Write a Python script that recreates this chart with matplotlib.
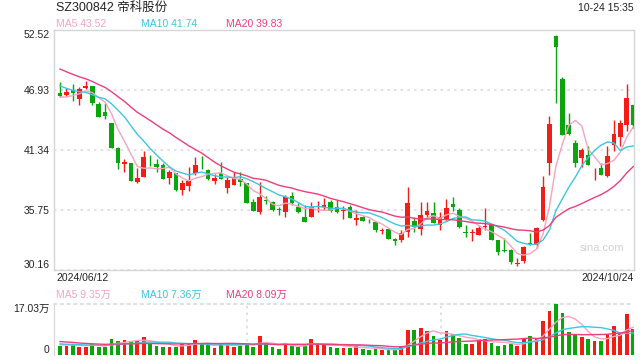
import numpy as np
import pandas as pd
import matplotlib
matplotlib.use("Agg")
import matplotlib.pyplot as plt

plt.rcParams['font.family'] = ['Liberation Sans', 'Noto Sans CJK SC', 'DejaVu Sans']

title = "SZ300842 帝科股份"
stamp = "10-24 15:35"
first_date = "2024/06/12"
last_date = "2024/10/24"
price_ticks = [30.16, 35.75, 41.34, 46.93, 52.52]
vol_max = 17.03
ma_periods = [5, 10, 20]
ma_legend = [43.52, 41.74, 39.83]      # values shown in the price legend
vol_ma_legend = [9.35, 7.36, 8.09]     # values shown in the volume legend (万)

# daily candles, 2024-06-12 .. 2024-10-24
opens = [46.68, 46.50, 46.93, 46.06, 47.12, 47.30, 45.63, 44.88, 43.83, 41.50,
         40.04, 40.10, 38.36, 38.85, 40.35, 40.04, 39.91, 38.76, 39.17, 37.61,
         38.02, 39.23, 40.07, 39.48, 38.48, 39.17, 37.83, 38.11, 38.61, 38.23,
         36.50, 35.59, 36.68, 36.50, 35.81, 35.59, 37.05, 36.00, 35.07, 35.13,
         36.09, 36.00, 36.52, 35.99, 35.63, 35.99, 34.86, 35.13, 34.75, 34.60,
         33.82, 33.95, 33.08, 32.95, 33.73, 34.72, 33.95, 35.28, 35.50, 34.32,
         34.88, 36.31, 35.75, 33.70, 33.65, 33.45, 34.20, 34.41, 32.95, 32.02,
         32.02, 30.70, 30.97, 32.67, 32.46, 34.85, 40.13, 51.99, 47.99, 43.70,
         41.99, 40.59, 40.91, 39.17, 39.66, 38.95, 41.84, 42.52, 43.64, 45.50]
highs = [47.71, 47.09, 47.49, 47.18, 47.80, 47.30, 45.84, 45.75, 43.83, 41.65,
         40.47, 40.10, 39.63, 41.25, 40.84, 40.47, 40.10, 39.48, 39.20, 38.55,
         39.79, 40.72, 40.78, 39.57, 39.07, 40.19, 38.85, 39.29, 39.26, 38.30,
         36.74, 38.39, 37.05, 36.62, 36.06, 37.18, 37.46, 36.40, 36.22, 36.45,
         36.60, 36.84, 36.68, 36.68, 36.12, 36.22, 35.75, 35.18, 34.91, 34.73,
         34.10, 34.02, 33.15, 33.89, 37.89, 35.13, 36.50, 36.50, 36.46, 35.59,
         36.77, 36.99, 35.91, 34.35, 33.95, 34.26, 35.91, 34.45, 33.00, 33.11,
         32.10, 31.25, 32.36, 33.60, 34.13, 38.89, 44.54, 52.08, 48.11, 44.79,
         42.30, 41.53, 41.68, 39.66, 40.13, 41.68, 44.17, 44.17, 47.49, 45.56]
lows = [46.25, 46.37, 45.94, 45.56, 47.05, 45.53, 44.45, 44.26, 41.50, 39.60,
        39.29, 38.45, 38.30, 38.79, 39.85, 39.29, 38.61, 38.17, 37.52, 37.12,
        37.55, 39.01, 39.57, 38.55, 38.14, 38.64, 37.30, 38.05, 37.99, 36.37,
        35.66, 35.35, 36.31, 35.69, 35.25, 35.13, 36.22, 35.50, 34.66, 35.13,
        35.60, 35.75, 35.60, 35.47, 34.91, 34.97, 34.38, 34.70, 34.51, 33.67,
        33.51, 33.05, 32.52, 32.80, 33.20, 33.67, 33.42, 35.07, 34.51, 33.89,
        34.82, 35.66, 34.10, 33.27, 32.86, 33.39, 33.89, 32.95, 31.56, 31.87,
        30.69, 30.53, 30.81, 32.52, 32.21, 34.76, 39.04, 45.72, 42.71, 42.77,
        39.72, 39.72, 39.91, 38.58, 38.98, 38.82, 41.22, 41.68, 43.08, 43.39]
closes = [46.40, 46.77, 46.68, 47.02, 47.33, 45.69, 44.45, 44.54, 41.56, 40.10,
          40.22, 38.48, 38.70, 40.66, 40.28, 39.79, 38.67, 39.26, 37.61, 38.30,
          38.45, 39.94, 40.00, 38.67, 38.76, 38.67, 38.55, 38.76, 38.39, 36.43,
          35.69, 36.99, 36.56, 35.75, 35.72, 36.99, 36.43, 35.56, 34.66, 36.03,
          36.15, 36.20, 35.69, 35.52, 35.78, 35.04, 35.02, 34.75, 34.70, 33.89,
          33.88, 33.06, 32.83, 33.58, 36.43, 34.20, 35.28, 35.66, 34.57, 35.07,
          35.94, 35.99, 34.20, 33.64, 33.70, 34.07, 34.29, 32.95, 31.87, 31.96,
          30.87, 30.74, 32.30, 32.58, 34.07, 37.89, 43.76, 50.97, 42.77, 42.83,
          40.13, 41.37, 39.97, 39.23, 39.04, 40.81, 42.83, 43.86, 46.18, 43.70]
# closes of the 19 sessions before the window (only feed the moving averages)
pre_close = [51.8, 51.5, 51.6, 51.0, 50.6, 50.2, 50.0, 49.6, 49.3, 48.9,
             49.0, 48.6, 48.2, 48.0, 47.9, 46.8, 46.0, 46.2, 46.0]

# volume in 万 shares
volume = [3.05, 3.05, 3.72, 2.82, 2.82, 3.72, 2.82, 2.82, 5.41, 4.74,
          5.08, 4.51, 4.51, 5.98, 3.72, 3.05, 2.82, 2.82, 2.82, 3.72,
          3.95, 4.85, 3.72, 3.38, 2.26, 3.72, 3.72, 2.82, 3.72, 3.72,
          2.82, 6.43, 4.17, 2.59, 2.03, 4.17, 3.05, 2.82, 3.27, 5.41,
          3.72, 3.72, 2.82, 2.48, 2.48, 2.48, 3.05, 2.03, 1.69, 2.03,
          1.69, 1.69, 1.69, 2.82, 8.46, 8.46, 9.02, 8.12, 6.20, 5.08,
          8.12, 6.99, 5.75, 3.72, 3.72, 5.30, 5.30, 4.17, 3.05, 3.38,
          3.72, 3.05, 5.64, 6.20, 5.64, 11.28, 14.66, 17.03, 13.87, 7.56,
          6.77, 5.87, 5.41, 4.51, 4.51, 6.99, 9.59, 7.33, 13.54, 8.80]
pre_volume = [6.5, 6.0, 7.0, 5.5, 6.0, 5.0, 4.5, 4.0, 4.5, 4.0,
              4.2, 3.8, 4.0, 4.0, 4.0, 3.5, 3.4, 3.6, 3.45]

RED = "#f01e14"
GREEN = "#0aa50a"
MA_COLORS = {5: "#f7a3c2", 10: "#3ec6e0", 20: "#ec3f7a"}
FRAME = "#d6d6d6"
GRID = "#dcdcdc"
TEXT = "#222222"

n = len(closes)
x = np.arange(n)
o = np.array(opens)
c = np.array(closes)
colors = np.where(c >= o, RED, GREEN)
xlim = (-0.93, n - 1 + 0.12)

fig = plt.figure(figsize=(6.4, 3.6), dpi=100)
ax = fig.add_axes([54 / 640, 90 / 360, 580 / 640, 240 / 360])
axv = fig.add_axes([54 / 640, 5 / 360, 580 / 640, 51 / 360])

# candles
ax.vlines(x, lows, highs, colors=colors, lw=1.0, zorder=3)
ax.bar(x, np.maximum(np.abs(c - o), 0.07), bottom=np.minimum(o, c),
       width=0.72, color=colors, lw=0, zorder=3)

close_all = pd.Series(pre_close + closes)
for k in ma_periods:
    ma = close_all.rolling(k).mean().iloc[-n:].values
    ax.plot(x, ma, color=MA_COLORS[k], lw=1.0, zorder=4)

ax.set_xlim(*xlim)
ax.set_ylim(price_ticks[0], price_ticks[-1])
ax.set_xticks([])
ax.set_yticks(price_ticks, labels=[f"{t:.2f}" for t in price_ticks])
ax.tick_params(axis='y', length=0, pad=3, labelsize=7.5, labelcolor=TEXT)
ylabels = ax.get_yticklabels()
ylabels[0].set_va('bottom')
ylabels[-1].set_va('top')
ax.yaxis.grid(True, ls=(0, (1.5, 2.5)), color=GRID, lw=1.2)
for s in ax.spines.values():
    s.set_color(FRAME)
    s.set_linewidth(1)
ax.text(0.945, 0.09, "sina.com", transform=ax.transAxes, ha='center', va='center',
        fontsize=8, color="#d2d2d2")

# volume
axv.bar(x, volume, width=0.58, color=colors, lw=0, zorder=3)
vol_all = pd.Series(pre_volume + volume)
for k in ma_periods:
    ma = vol_all.rolling(k).mean().iloc[-n:].values
    axv.plot(x, ma, color=MA_COLORS[k], lw=1.0, zorder=4)
axv.set_xlim(*xlim)
axv.set_ylim(0, vol_max)
axv.set_xticks([])
axv.set_yticks([0, vol_max], labels=["0", f"{vol_max:.2f}万"])
axv.tick_params(axis='y', length=0, pad=3, labelsize=7.5, labelcolor=TEXT)
vlabels = axv.get_yticklabels()
vlabels[0].set_va('bottom')
vlabels[-1].set_va('top')
for s in ('right', 'bottom'):
    axv.spines[s].set_visible(False)
axv.spines['top'].set_linestyle((0, (1.5, 2.5)))
axv.spines['top'].set_color(GRID)
axv.spines['top'].set_linewidth(1.2)
axv.spines['left'].set_color(FRAME)
for frac in (1 / 3, 2 / 3):
    axv.axvline(xlim[0] + frac * (xlim[1] - xlim[0]), ls=(0, (1.5, 2.5)),
                color=GRID, lw=1.2, zorder=1)

# header / labels
def ftext(px, py, s, **kw):
    fig.text(px / 640, 1 - py / 360, s, va='center', **kw)

ftext(56, 8, title, fontsize=9, color=TEXT)
ftext(634, 8, stamp, fontsize=7.5, color=TEXT, ha='right')
for px, k, v, vv in zip((56, 141, 226), ma_periods, ma_legend, vol_ma_legend):
    ftext(px, 24, f"MA{k} {v:.2f}", fontsize=7.5, color=MA_COLORS[k])
    ftext(px, 295, f"MA{k} {vv:.2f}万", fontsize=7.5, color=MA_COLORS[k])
ftext(56, 278, first_date, fontsize=7.5, color=TEXT)
ftext(634, 278, last_date, fontsize=7.5, color=TEXT, ha='right')

fig.savefig("out.png", dpi=100)
